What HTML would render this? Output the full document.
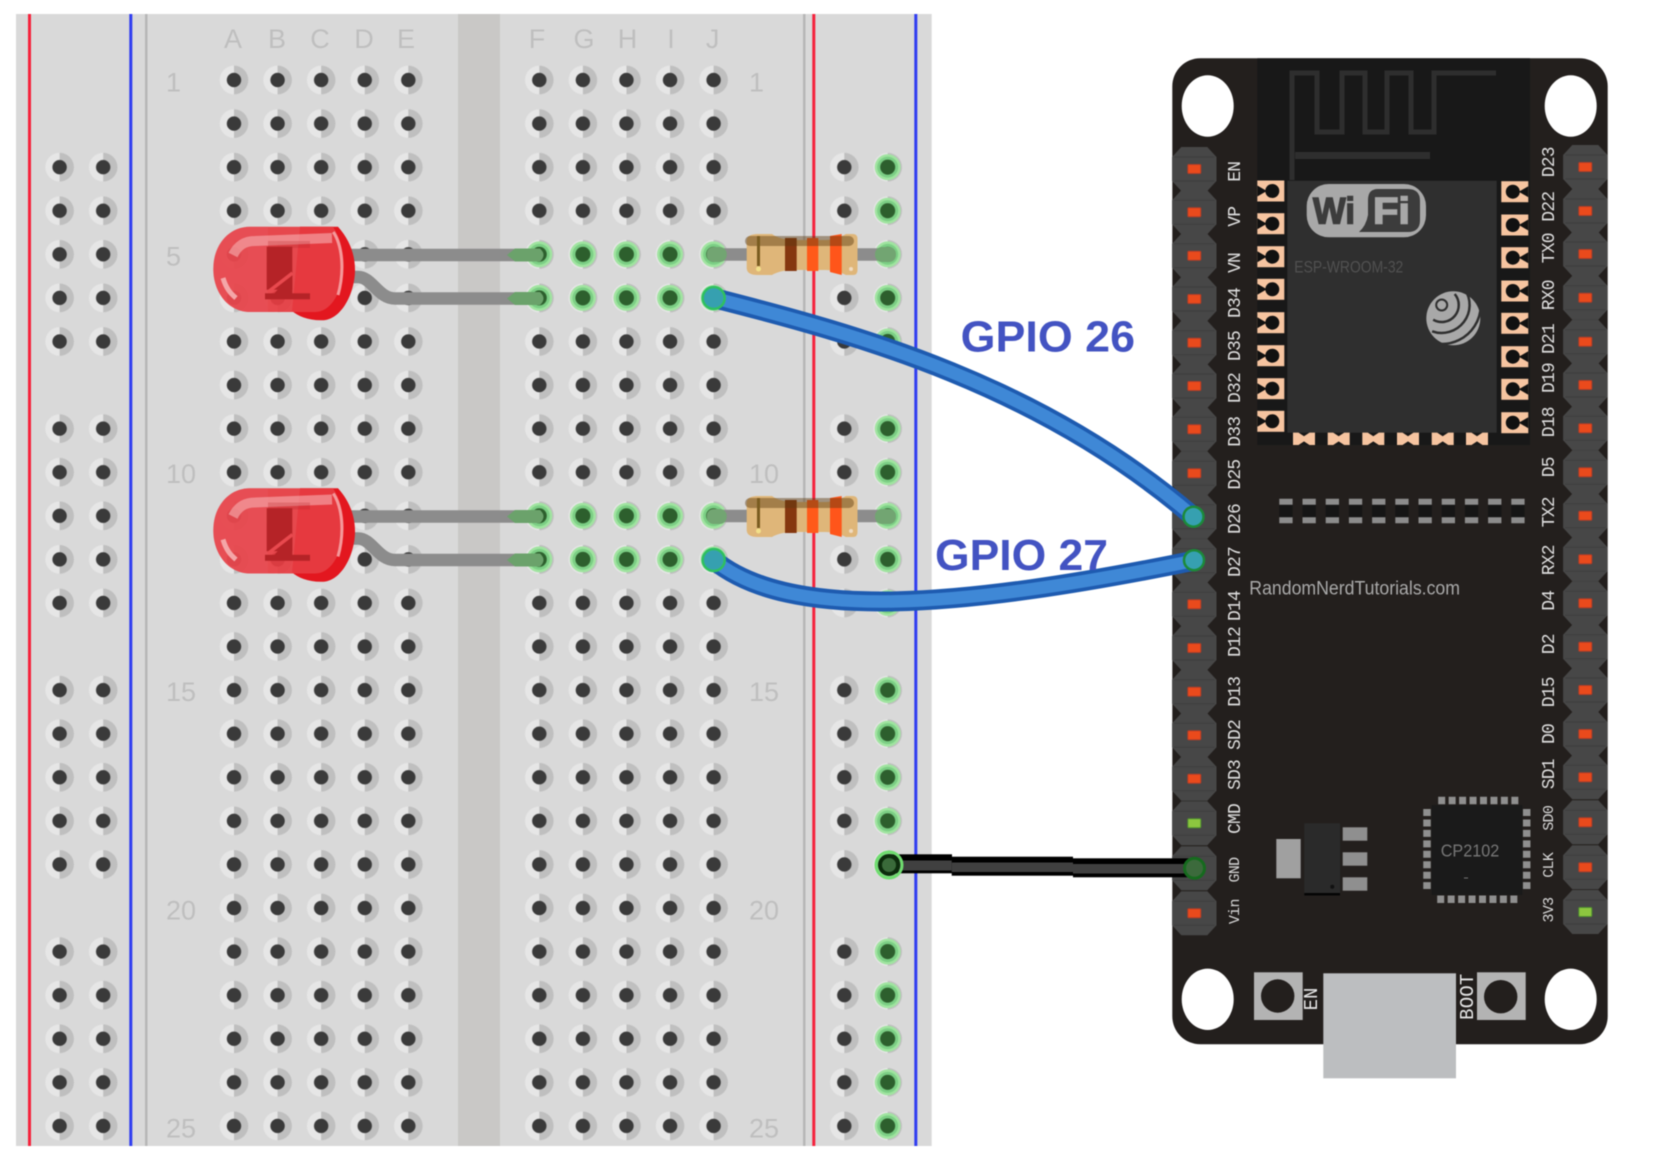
<!DOCTYPE html>
<html lang="en">
<head>
<meta charset="utf-8">
<title>ESP32 LED Circuit</title>
<style>
html,body{margin:0;padding:0;background:#fff}
svg{display:block;position:absolute;left:0;top:0;filter:blur(.6px)}
.bb{font-family:"Liberation Sans",sans-serif;font-size:27px;fill:#bfbfbf}
.m{font-family:"Liberation Mono",monospace;font-size:18px;letter-spacing:-.8px;fill:#dedede;text-anchor:middle}
.s{font-family:"Liberation Mono",monospace;font-size:15px;letter-spacing:-.7px;fill:#d8d8d8;text-anchor:middle}
.g{font-family:"Liberation Sans",sans-serif;font-size:44px;font-weight:bold;fill:#4353c2}
</style>
</head>
<body>
<svg width="1664" height="1162" viewBox="0 0 1664 1162" xmlns="http://www.w3.org/2000/svg">
<defs>
<pattern id="d" x="-21.79" y="-21.79" width="43.58" height="43.58" patternUnits="userSpaceOnUse">
<g transform="translate(21.79 21.79)"><path d="M0-14.3A14.3 14.3 0 0 0 0 14.3z" fill="#e6e6e6"/><path d="M0-14.3A14.3 14.3 0 0 1 0 14.3z" fill="#bfbfbf"/><circle r="7.2" fill="#3a3a3a"/></g>
</pattern>
<pattern id="v" x="-21.79" y="-21.79" width="43.58" height="43.58" patternUnits="userSpaceOnUse">
<g transform="translate(21.79 21.79)"><path d="M0-14.3A14.3 14.3 0 0 0 0 14.3z" fill="#e6e6e6"/><path d="M0-14.3A14.3 14.3 0 0 1 0 14.3z" fill="#bfbfbf"/><circle r="13" fill="#a0e4a0"/><circle r="10.5" fill="#7ccf85"/><circle r="7.5" fill="#2d5f2d"/></g>
</pattern>
<g id="pin"><polygon points="-13,-22 13,-22 22.2,-12 22.2,12 13,22 -13,22 -22.2,12 -22.2,-12" fill="#474747"/><path d="M-20-12H20M-20 12H20" stroke="#3d3d3d" stroke-width="1"/></g>
<rect id="r" x="-6.5" y="-4.5" width="13" height="9" rx="1" fill="#ea4a1c" stroke="#b03c28" stroke-width="1"/>
<rect id="gr" x="-6.5" y="-4.5" width="13" height="9" rx="1" fill="#8cc63f" stroke="#4f8f2f" stroke-width="1"/>
<g id="pl"><rect x="-13.5" y="-10.5" width="27" height="21" fill="#f6c4a0"/><polygon points="-13.5,-5.5 -4,0 -13.5,5.5" fill="#111"/><circle cx="1.5" r="7" fill="#111"/></g>
<g id="pr"><rect x="-13.5" y="-10.5" width="27" height="21" fill="#f6c4a0"/><polygon points="13.5,-5.5 4,0 13.5,5.5" fill="#111"/><circle cx="-2" r="7" fill="#111"/></g>
<polygon id="pb" points="-11,-6.2 -5.5,-6.2 0,-2.6 5.5,-6.2 11,-6.2 11,6.2 5.5,6.2 0,2.6 -5.5,6.2 -11,6.2" fill="#f6c4a0"/>
<g id="led">
<path d="M338 226.7C350 240 355 255 355 270C355 292 342 320.3 322 320.3C308 320.5 298 316 292 311L300 226.7Z" fill="#e3171f"/>
<path d="M250 226.7L333 226.7C342 240 344.500 258 343.500 270C341 295 330 312 315 312L250 312C228 312 213.300 292 213.300 269C213.300 246 228 226.700 250 226.700Z" fill="#e63c42" fill-opacity=".93"/>
<path d="M213.500 265C214 245 228 226.700 250 226.700L268 226.700L268 312L250 312C228 312 214 292 213.500 272Z" fill="#e85a60" fill-opacity=".35"/>
<path d="M233 255C238 245 245 241 255 241L332 238" fill="none" stroke="#f6b0b2" stroke-opacity=".6" stroke-width="10"/>
<path d="M333.300 232C342 245 345 270 338 295" fill="none" stroke="#f5989a" stroke-width="3"/>
<path d="M223 278C226 288 230 293 236 298" fill="none" stroke="#f4a6a8" stroke-width="5"/>
<rect x="268" y="241" width="42" height="7" fill="#b52327" fill-opacity=".25"/>
<rect x="266.700" y="246.700" width="25.600" height="43" fill="#b52327"/>
<polygon points="292.300,272 292.300,294 274,294" fill="#b52327"/>
<rect x="265" y="293.300" width="45" height="6" fill="#b52327"/>
<path d="M268 292L292.500 273" stroke="#e8494e" stroke-width="3.500"/>
</g>
<g id="res">
<path d="M758 234H772Q780 240 795 240H826Q836 240 846 234H853Q857.500 234 857.500 239V270Q857.500 275 853 275H846Q836 270 826 270H795Q780 270 772 275H758Q746.700 275 746.700 268V241Q746.700 234 758 234Z" fill="#dfb679"/>
<rect x="785" y="238" width="11.700" height="33" fill="#85370f"/>
<rect x="807" y="238" width="11.300" height="33" fill="#ff5a1a"/>
<polygon points="830,236 841.700,234 841.700,275 830,272" fill="#ff551a"/>
<path d="M750 241H849" stroke="#5a3a10" stroke-opacity=".45" stroke-width="10" stroke-linecap="round"/>
<path d="M758.500 236V266" stroke="#7a5c20" stroke-width="3"/>
<circle cx="758.500" cy="269" r="2.500" fill="#f2e08a"/>
<circle cx="851" cy="269" r="2" fill="#f0dcc0"/>
</g>
</defs>

<!-- breadboard -->
<rect x="16" y="14" width="915.700" height="1132" fill="#d9d9d9"/>
<rect x="458" y="14" width="42" height="1132" fill="#c9c8c6"/>
<rect x="28" y="14" width="3" height="1132" fill="#f5223c"/>
<rect x="129.300" y="14" width="3" height="1132" fill="#2f3df0"/>
<rect x="145" y="14" width="2.500" height="1132" fill="#b7b7b7"/>
<rect x="803" y="14" width="2.500" height="1132" fill="#b7b7b7"/>
<rect x="812.300" y="14" width="3" height="1132" fill="#f5223c"/>
<rect x="914.300" y="14" width="3" height="1132" fill="#2f3df0"/>

<text class="bb" x="233" y="48" text-anchor="middle">A</text>
<text class="bb" x="277" y="48" text-anchor="middle">B</text>
<text class="bb" x="320" y="48" text-anchor="middle">C</text>
<text class="bb" x="364" y="48" text-anchor="middle">D</text>
<text class="bb" x="406" y="48" text-anchor="middle">E</text>
<text class="bb" x="537" y="48" text-anchor="middle">F</text>
<text class="bb" x="584" y="48" text-anchor="middle">G</text>
<text class="bb" x="627.500" y="48" text-anchor="middle">H</text>
<text class="bb" x="671" y="48" text-anchor="middle">I</text>
<text class="bb" x="712.600" y="48" text-anchor="middle">J</text>
<text class="bb" x="166" y="91.500">1</text>
<text class="bb" x="166" y="265.700">5</text>
<text class="bb" x="166" y="483">10</text>
<text class="bb" x="166" y="701">15</text>
<text class="bb" x="166" y="919.300">20</text>
<text class="bb" x="166" y="1137.300">25</text>
<text class="bb" x="749" y="91.500">1</text>
<text class="bb" x="749" y="483">10</text>
<text class="bb" x="749" y="701">15</text>
<text class="bb" x="749" y="919.300">20</text>
<text class="bb" x="749" y="1137.300">25</text>

<g transform="translate(234 80)"><rect x="-21.790" y="-21.790" width="217.900" height="1089.500" fill="url(#d)"/></g>
<g transform="translate(539.300 80)">
<rect x="-21.790" y="-21.790" width="217.900" height="1089.500" fill="url(#d)"/>
<rect x="-21.790" y="152.530" width="217.900" height="87.160" fill="url(#v)"/>
<rect x="-21.790" y="414.010" width="217.900" height="87.160" fill="url(#v)"/>
</g>
<g transform="translate(59.600 80)">
<rect x="-21.790" y="65.370" width="87.160" height="217.900" fill="url(#d)"/>
<rect x="-21.790" y="326.850" width="87.160" height="217.900" fill="url(#d)"/>
<rect x="-21.790" y="588.330" width="87.160" height="217.900" fill="url(#d)"/>
<rect x="-21.790" y="849.810" width="87.160" height="217.900" fill="url(#d)"/>
</g>
<g transform="translate(844.300 80)">
<rect x="-21.790" y="65.370" width="43.580" height="217.900" fill="url(#d)"/>
<rect x="-21.790" y="326.850" width="43.580" height="217.900" fill="url(#d)"/>
<rect x="-21.790" y="588.330" width="43.580" height="217.900" fill="url(#d)"/>
<rect x="-21.790" y="849.810" width="43.580" height="217.900" fill="url(#d)"/>
</g>
<g transform="translate(887.700 80)">
<rect x="-21.790" y="65.370" width="43.580" height="217.900" fill="url(#v)"/>
<rect x="-21.790" y="326.850" width="43.580" height="217.900" fill="url(#v)"/>
<rect x="-21.790" y="588.330" width="43.580" height="217.900" fill="url(#v)"/>
<rect x="-21.790" y="849.810" width="43.580" height="217.900" fill="url(#v)"/>
</g>

<!-- LED leads -->
<g fill="none" stroke="#8c8c8c" stroke-width="12.500">
<path d="M345 255H539"/>
<path d="M345 277H358C372 277 378 298.500 395 298.500H539"/>
<path d="M345 516.500H539"/>
<path d="M345 538.500H358C372 538.500 378 560 395 560H539"/>
<path d="M714 254.500H888"/>
<path d="M714 516H888"/>
</g>
<g fill="#6ba26b">
<path d="M507 255L515 248.500H540Q547 255 540 261.500H515Z"/>
<path d="M507 298.500L515 292H540Q547 298.500 540 305H515Z"/>
<path d="M507 516.500L515 510H540Q547 516.500 540 523H515Z"/>
<path d="M507 560L515 553.500H540Q547 560 540 566.500H515Z"/>
</g>
<use href="#led"/>
<use href="#led" y="261.500"/>
<use href="#res"/>
<use href="#res" y="262"/>
<g fill="#72a572">
<rect x="706.700" y="247" width="20" height="15" rx="7"/>
<rect x="875" y="247" width="21" height="15" rx="7"/>
<rect x="706.700" y="509" width="20" height="15" rx="7"/>
<rect x="875" y="509" width="21" height="15" rx="7"/>
</g>

<!-- ESP32 board -->
<rect x="1172.300" y="58.300" width="435.400" height="986" rx="28" fill="#231f1d"/>
<rect x="1323.300" y="973.300" width="132.700" height="105" fill="#bcbec0"/>
<ellipse cx="1207.700" cy="106" rx="26" ry="30.700" fill="#fff"/>
<ellipse cx="1570.700" cy="106" rx="26" ry="30.700" fill="#fff"/>
<ellipse cx="1207.700" cy="999.300" rx="26" ry="30.700" fill="#fff"/>
<ellipse cx="1570.700" cy="999.300" rx="26" ry="30.700" fill="#fff"/>

<rect x="1257.300" y="58.300" width="272.700" height="386.700" fill="#181818"/>
<rect x="1287.300" y="180.700" width="209.400" height="252" fill="#2f2f2f"/>
<path d="M1496 73H1434V132H1411V73H1387V132H1365V73H1342V132H1317V73H1292V180" fill="none" stroke="#2e2e2e" stroke-width="5"/>
<rect x="1295" y="152" width="135" height="7" fill="#2e2e2e"/>

<use href="#pl" x="1270.800" y="191"/><use href="#pl" x="1270.800" y="223.700"/><use href="#pl" x="1270.800" y="256.700"/><use href="#pl" x="1270.800" y="289.300"/><use href="#pl" x="1270.800" y="322.700"/><use href="#pl" x="1270.800" y="355.700"/><use href="#pl" x="1270.800" y="388.700"/><use href="#pl" x="1270.800" y="421.300"/>
<use href="#pr" x="1514.800" y="191.700"/><use href="#pr" x="1514.800" y="225"/><use href="#pr" x="1514.800" y="257.700"/><use href="#pr" x="1514.800" y="291"/><use href="#pr" x="1514.800" y="323.300"/><use href="#pr" x="1514.800" y="356.700"/><use href="#pr" x="1514.800" y="389.300"/><use href="#pr" x="1514.800" y="422.700"/>
<use href="#pb" x="1304" y="438.800"/><use href="#pb" x="1338.700" y="438.800"/><use href="#pb" x="1373.300" y="438.800"/><use href="#pb" x="1408" y="438.800"/><use href="#pb" x="1442.700" y="438.800"/><use href="#pb" x="1477" y="438.800"/>

<!-- wifi logo -->
<rect x="1306.700" y="184" width="119.300" height="53.300" rx="22" fill="#a8a8a8"/>
<path d="M1378 189L1408 189Q1420 189 1420 201L1420 220Q1420 232 1408 232L1359 232Q1366 226 1368 215L1368 200Q1368 189 1378 189Z" fill="#3c3c3c"/>
<text x="1313" y="223.300" font-family="Liberation Sans,sans-serif" font-weight="bold" font-size="37" fill="#3c3c3c" stroke="#3c3c3c" stroke-width="1.500" textLength="42" lengthAdjust="spacingAndGlyphs">Wi</text>
<text x="1373" y="223.300" font-family="Liberation Sans,sans-serif" font-weight="bold" font-size="37" fill="#a8a8a8" stroke="#a8a8a8" stroke-width="1.500" textLength="37" lengthAdjust="spacingAndGlyphs">Fi</text>
<text x="1294.300" y="272.700" font-family="Liberation Sans,sans-serif" font-size="17" fill="#515151" textLength="109" lengthAdjust="spacingAndGlyphs">ESP-WROOM-32</text>

<!-- espressif logo -->
<circle cx="1453.300" cy="318.300" r="27" fill="#a8a8a8"/>
<g fill="none" stroke="#2f2f2f" stroke-width="2.500">
<path d="M1433.200 319.700A17 17 0 0 0 1454.700 294"/>
<path d="M1432.100 331.300A28 28 0 0 0 1464.600 289"/>
<path d="M1438.300 343.900A39 39 0 0 0 1475.500 285.500"/>
</g>
<circle cx="1441.700" cy="305" r="5.500" fill="#a8a8a8" stroke="#2f2f2f" stroke-width="2"/>

<!-- SMD row -->
<path d="M1279.300 511H1525.500" stroke="#151515" stroke-width="12.700" stroke-dasharray="13.300 9.900"/>
<path d="M1279.300 501.700H1525.500M1279.300 520.300H1525.500" stroke="#8c8c8c" stroke-width="6" stroke-dasharray="13.300 9.900"/>

<text x="1249.300" y="594.300" font-family="Liberation Sans,sans-serif" font-size="19" fill="#a9a9a9" textLength="210.700" lengthAdjust="spacingAndGlyphs">RandomNerdTutorials.com</text>

<!-- regulator -->
<rect x="1276.300" y="839" width="24.400" height="39.300" fill="#a0a0a0"/>
<rect x="1304.300" y="823.300" width="35.700" height="72" fill="#2a2a2a"/>
<rect x="1304.300" y="893" width="35.700" height="2.500" fill="#050505"/>
<circle cx="1332.300" cy="886.700" r="2" fill="#111"/>
<rect x="1342.700" y="827.300" width="24.600" height="13.400" fill="#8f8f8f"/>
<rect x="1342.700" y="852.300" width="24.600" height="13.400" fill="#8f8f8f"/>
<rect x="1342.700" y="877.300" width="24.600" height="13.400" fill="#8f8f8f"/>

<!-- CP2102 -->
<rect x="1431.700" y="805" width="90.600" height="90" fill="#1a1a1a"/>
<g fill="none" stroke="#8f8f8f" stroke-width="7.500" stroke-dasharray="7 3.450">
<path d="M1438.200 800.500H1519"/>
<path d="M1437.200 899.300H1518"/>
<path d="M1427 809V889"/>
<path d="M1526.700 809V889"/>
</g>
<text x="1440.700" y="856.700" font-family="Liberation Sans,sans-serif" font-size="17.500" fill="#777" textLength="58.600" lengthAdjust="spacingAndGlyphs">CP2102</text>
<rect x="1464" y="877.500" width="4" height="1" fill="#777"/>

<!-- buttons -->
<rect x="1254" y="972.300" width="48.700" height="47.700" fill="#b3b3b3"/>
<circle cx="1277.700" cy="996" r="16.700" fill="#231f1d"/>
<rect x="1477" y="972.300" width="48.700" height="47.700" fill="#b3b3b3"/>
<circle cx="1500.700" cy="996.700" r="16.700" fill="#231f1d"/>
<text transform="translate(1317 999) rotate(-90)" font-family="Liberation Mono,monospace" font-size="19" fill="#e6e6e6" text-anchor="middle">EN</text>
<text transform="translate(1473 996.700) rotate(-90)" font-family="Liberation Mono,monospace" font-size="19" fill="#e6e6e6" text-anchor="middle" letter-spacing=".2">BOOT</text>

<!-- pins left -->
<use href="#pin" x="1194.300" y="169"/><use href="#pin" x="1194.300" y="212.300"/><use href="#pin" x="1194.300" y="255.700"/><use href="#pin" x="1194.300" y="299"/><use href="#pin" x="1194.300" y="342.700"/><use href="#pin" x="1194.300" y="386"/><use href="#pin" x="1194.300" y="429.300"/><use href="#pin" x="1194.300" y="473.300"/><use href="#pin" x="1194.300" y="516.700"/><use href="#pin" x="1194.300" y="560.700"/><use href="#pin" x="1194.300" y="604.300"/><use href="#pin" x="1194.300" y="648"/><use href="#pin" x="1194.300" y="691.700"/><use href="#pin" x="1194.300" y="735.300"/><use href="#pin" x="1194.300" y="778.700"/><use href="#pin" x="1194.300" y="823.300"/><use href="#pin" x="1194.300" y="868.300"/><use href="#pin" x="1194.300" y="913.300"/>
<use href="#r" x="1194.300" y="169"/><use href="#r" x="1194.300" y="212.300"/><use href="#r" x="1194.300" y="255.700"/><use href="#r" x="1194.300" y="299"/><use href="#r" x="1194.300" y="342.700"/><use href="#r" x="1194.300" y="386"/><use href="#r" x="1194.300" y="429.300"/><use href="#r" x="1194.300" y="473.300"/><use href="#r" x="1194.300" y="604.300"/><use href="#r" x="1194.300" y="648"/><use href="#r" x="1194.300" y="691.700"/><use href="#r" x="1194.300" y="735.300"/><use href="#r" x="1194.300" y="778.700"/><use href="#gr" x="1194.300" y="823.300"/><use href="#r" x="1194.300" y="913.300"/>
<!-- pins right -->
<use href="#pin" x="1585.300" y="167"/><use href="#pin" x="1585.300" y="211"/><use href="#pin" x="1585.300" y="254"/><use href="#pin" x="1585.300" y="297.700"/><use href="#pin" x="1585.300" y="341.700"/><use href="#pin" x="1585.300" y="385"/><use href="#pin" x="1585.300" y="428.300"/><use href="#pin" x="1585.300" y="472.300"/><use href="#pin" x="1585.300" y="515.700"/><use href="#pin" x="1585.300" y="559.300"/><use href="#pin" x="1585.300" y="603.300"/><use href="#pin" x="1585.300" y="646.700"/><use href="#pin" x="1585.300" y="690"/><use href="#pin" x="1585.300" y="734"/><use href="#pin" x="1585.300" y="777.300"/><use href="#pin" x="1585.300" y="822.300"/><use href="#pin" x="1585.300" y="867.300"/><use href="#pin" x="1585.300" y="912"/>
<use href="#r" x="1585.300" y="167"/><use href="#r" x="1585.300" y="211"/><use href="#r" x="1585.300" y="254"/><use href="#r" x="1585.300" y="297.700"/><use href="#r" x="1585.300" y="341.700"/><use href="#r" x="1585.300" y="385"/><use href="#r" x="1585.300" y="428.300"/><use href="#r" x="1585.300" y="472.300"/><use href="#r" x="1585.300" y="515.700"/><use href="#r" x="1585.300" y="559.300"/><use href="#r" x="1585.300" y="603.300"/><use href="#r" x="1585.300" y="646.700"/><use href="#r" x="1585.300" y="690"/><use href="#r" x="1585.300" y="734"/><use href="#r" x="1585.300" y="777.300"/><use href="#r" x="1585.300" y="822.300"/><use href="#r" x="1585.300" y="867.300"/><use href="#gr" x="1585.300" y="912"/>

<!-- pin labels left -->
<text class="m" transform="translate(1240 171.700) rotate(-90)">EN</text>
<text class="m" transform="translate(1240 216.700) rotate(-90)">VP</text>
<text class="m" transform="translate(1240 263) rotate(-90)">VN</text>
<text class="m" transform="translate(1240 303) rotate(-90)">D34</text>
<text class="m" transform="translate(1240 346) rotate(-90)">D35</text>
<text class="m" transform="translate(1240 388) rotate(-90)">D32</text>
<text class="m" transform="translate(1240 431.700) rotate(-90)">D33</text>
<text class="m" transform="translate(1240 474.600) rotate(-90)">D25</text>
<text class="m" transform="translate(1240 519) rotate(-90)">D26</text>
<text class="m" transform="translate(1240 562) rotate(-90)">D27</text>
<text class="m" transform="translate(1240 606) rotate(-90)">D14</text>
<text class="m" transform="translate(1240 642) rotate(-90)">D12</text>
<text class="m" transform="translate(1240 691.700) rotate(-90)">D13</text>
<text class="m" transform="translate(1240 735) rotate(-90)">SD2</text>
<text class="m" transform="translate(1240 775) rotate(-90)">SD3</text>
<text class="m" transform="translate(1240 819) rotate(-90)">CMD</text>
<text class="s" transform="translate(1239 870) rotate(-90)">GND</text>
<text class="s" transform="translate(1239 911.700) rotate(-90)">Vin</text>
<!-- pin labels right -->
<text class="m" transform="translate(1554 162.300) rotate(-90)">D23</text>
<text class="m" transform="translate(1554 206.700) rotate(-90)">D22</text>
<text class="m" transform="translate(1554 248.300) rotate(-90)">TX0</text>
<text class="m" transform="translate(1554 295.300) rotate(-90)">RX0</text>
<text class="m" transform="translate(1554 339) rotate(-90)">D21</text>
<text class="m" transform="translate(1554 378) rotate(-90)">D19</text>
<text class="m" transform="translate(1554 422.300) rotate(-90)">D18</text>
<text class="m" transform="translate(1554 467.300) rotate(-90)">D5</text>
<text class="m" transform="translate(1554 512.300) rotate(-90)">TX2</text>
<text class="m" transform="translate(1554 560.300) rotate(-90)">RX2</text>
<text class="m" transform="translate(1554 600.700) rotate(-90)">D4</text>
<text class="m" transform="translate(1554 644.300) rotate(-90)">D2</text>
<text class="m" transform="translate(1554 692.300) rotate(-90)">D15</text>
<text class="m" transform="translate(1554 734) rotate(-90)">D0</text>
<text class="m" transform="translate(1554 774.300) rotate(-90)">SD1</text>
<text class="s" transform="translate(1553 818.300) rotate(-90)">SD0</text>
<text class="s" transform="translate(1553 865.300) rotate(-90)">CLK</text>
<text class="s" transform="translate(1553 910) rotate(-90)">3V3</text>

<!-- wires -->
<g fill="none" stroke-linecap="round">
<path d="M713.700 298C860 335 1040 385 1193.500 516.700" stroke="#1e5bb0" stroke-width="20"/>
<path d="M713.700 298C860 335 1040 385 1193.500 516.700" stroke="#3f88d6" stroke-width="12.500"/>
<path d="M713.700 560C790 622 960 608 1194 560.700" stroke="#1e5bb0" stroke-width="20"/>
<path d="M713.700 560C790 622 960 608 1194 560.700" stroke="#3f88d6" stroke-width="12.500"/>
</g>
<rect x="888" y="854.300" width="64" height="19" fill="#000"/>
<rect x="888" y="860.500" width="64" height="10" fill="#404040"/>
<rect x="951.700" y="856.700" width="121.300" height="19" fill="#000"/>
<rect x="951.700" y="862.500" width="121.300" height="9.500" fill="#404040"/>
<rect x="1073" y="858.300" width="120" height="19" fill="#000"/>
<rect x="1073" y="864" width="120" height="9.500" fill="#404040"/>
<circle cx="889" cy="865" r="9" fill="#3a6a3a" stroke="#0c2c0c" stroke-width="4"/>
<circle cx="889" cy="865" r="13" fill="none" stroke="#6fdc6f" stroke-width="3"/>
<circle cx="1194.500" cy="868.300" r="10" fill="#3c6a3c" stroke="#166a1e" stroke-width="3"/>
<circle cx="713.700" cy="298" r="11" fill="#36a0b0" stroke="#2fc060" stroke-width="2.500"/>
<circle cx="713.700" cy="560" r="11" fill="#36a0b0" stroke="#2fc060" stroke-width="2.500"/>
<circle cx="1193.500" cy="516.700" r="10" fill="#36a0b0" stroke="#1c8a3a" stroke-width="2.500"/>
<circle cx="1194" cy="560.200" r="10" fill="#36a0b0" stroke="#1c8a3a" stroke-width="2.500"/>

<!-- labels -->
<text class="g" x="960.700" y="351.700" textLength="174.300" lengthAdjust="spacingAndGlyphs">GPIO 26</text>
<text class="g" x="935" y="570" textLength="173" lengthAdjust="spacingAndGlyphs">GPIO 27</text>
</svg>
</body>
</html>
